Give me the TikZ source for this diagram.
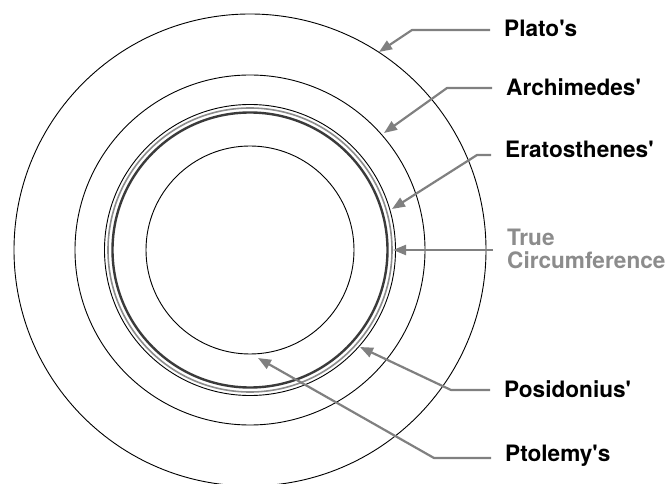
\documentclass[tikz,border=0pt]{standalone}
\usepackage{fontspec}
\setmainfont{TeX Gyre Heros}
\usetikzlibrary{arrows.meta,calc}
\definecolor{arrowgray}{HTML}{808080}
\definecolor{truegray}{HTML}{8C8C8C}
\definecolor{ringdark}{HTML}{3A3A3A}

\begin{document}
\begin{tikzpicture}[x=1pt,y=-1pt,line join=round,
  orbit/.style={draw=black,line width=0.9pt},
  callout/.style={draw=arrowgray,line width=2.2pt,-{Triangle[length=13pt,width=10pt]}},
  estimate/.style={anchor=west,inner xsep=14pt,inner ysep=0pt,text height=16pt,text depth=0pt,
    font=\fontsize{22.6}{23}\selectfont\bfseries}]
  \useasboundingbox (0,0) rectangle (665,484);
  \coordinate (c) at (250,250);
  % the estimates, largest first
  \draw[orbit] (c) circle[radius=236pt];
  \draw[orbit] (c) circle[radius=175pt];
  \draw[orbit] (c) circle[radius=145.5pt];
  \draw[draw=truegray,line width=1.6pt] (c) circle[radius=142pt];
  \draw[draw=ringdark,line width=2.4pt] (c) circle[radius=137.5pt];
  \draw[orbit] (c) circle[radius=104pt];
  % labels
  \node[estimate] (plato) at (490,29) {Plato\textquotesingle s};
  \node[estimate] (archimedes) at (492,88) {Archimedes\textquotesingle};
  \node[estimate] (eratosthenes) at (491,150) {Eratosthenes\textquotesingle};
  \node[anchor=west,inner xsep=14pt,inner ysep=0pt,align=left,text=truegray,
    font=\fontsize{22.6}{22.5}\selectfont\bfseries] (truecirc) at (493,249) {True\\Circumference};
  \node[estimate] (posidonius) at (490,389) {Posidonius\textquotesingle};
  \node[estimate] (ptolemy) at (491,453) {Ptolemy\textquotesingle s};
  % arrow tips on the circles
  \coordinate (platotip) at (379,52);
  \coordinate (archtip) at (384,133);
  \coordinate (eratotip) at (392,209);
  \coordinate (truetip) at (393,250);
  \coordinate (posidtip) at (360,347);
  \coordinate (ptoltip) at (258,358);
  \draw[callout] ($(plato.west)+(0,1)$) -- (412,30) -- (platotip);
  \draw[callout] (archimedes.west) -- (447,88) -- (archtip);
  \draw[callout] ($(eratosthenes.west)+(0,5)$) -- (477,155) -- (eratotip);
  \draw[callout] ($(truecirc.west)+(0,1)$) -- (truetip);
  \draw[callout] ($(posidonius.west)+(0,1)$) -- (451,390) -- (posidtip);
  \draw[callout] ($(ptolemy.west)+(0,5)$) -- (434,458) -- (ptoltip);
\end{tikzpicture}
\end{document}
